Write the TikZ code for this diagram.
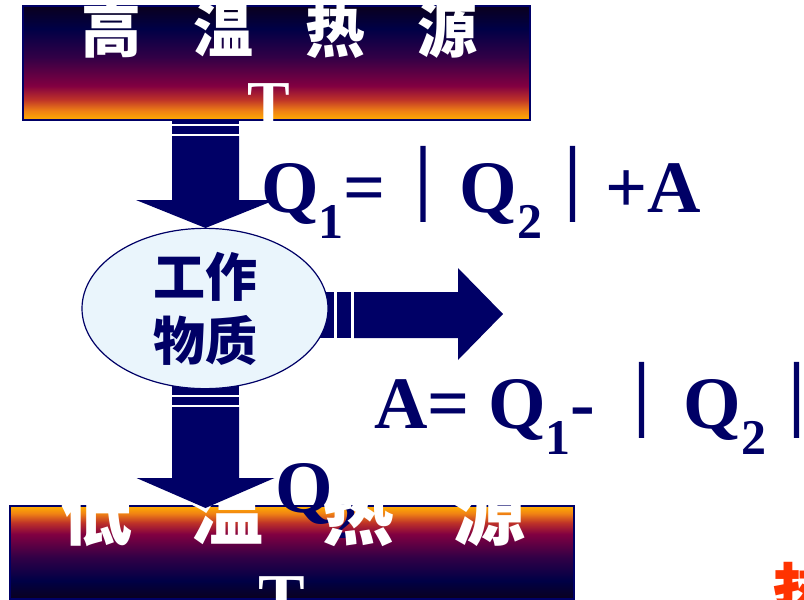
\documentclass[tikz,border=0pt]{standalone}
\usepackage{fontspec}
\usetikzlibrary{shapes.geometric}
\newfontfamily\cjk{Noto Sans CJK SC}
\newfontfamily\cjkbar{Noto Sans CJK SC}[FakeBold=3]
\newfontfamily\tms{Liberation Serif}
\definecolor{navy}{RGB}{0,0,102}
\definecolor{ellfill}{RGB}{234,245,252}
\definecolor{hotred}{RGB}{255,51,0}
\definecolor{gO}{RGB}{255,175,0}
\definecolor{gOr}{RGB}{240,130,20}
\definecolor{gR}{RGB}{190,50,40}
\definecolor{gM}{RGB}{130,0,65}
\definecolor{gP}{RGB}{50,0,70}
\definecolor{gN}{RGB}{0,0,70}
\definecolor{gK}{RGB}{10,0,30}
\pgfdeclareverticalshading{hotsrc}{100bp}{color(0bp)=(gO); color(25bp)=(gO); color(29bp)=(gOr); color(34bp)=(gR); color(40bp)=(gM); color(52.5bp)=(gP); color(65bp)=(gN); color(75bp)=(gK); color(100bp)=(gK)}
\pgfdeclareverticalshading{coldsrc}{100bp}{color(0bp)=(gK); color(25bp)=(gK); color(35bp)=(gN); color(47.5bp)=(gP); color(60bp)=(gM); color(66bp)=(gR); color(71bp)=(gOr); color(75bp)=(gO); color(100bp)=(gO)}
\newcommand\subidx[1]{\raisebox{-26pt}{\fontsize{50}{50}\selectfont #1}}
\newcommand\fwbar{{\cjkbar\mdseries ｜}}
\begin{document}
\begin{tikzpicture}[x=1pt,y=-1pt,
  arrowfill/.style={fill=navy},
  srcbox/.style={rectangle, draw=navy, line width=1.5pt, inner sep=0pt},
  srctext/.style={text=white, inner sep=0pt, anchor=base west},
  formula/.style={text=navy, inner sep=0pt, anchor=base west, font=\tms\bfseries\fontsize{74}{74}\selectfont}]
\useasboundingbox (0,0) rectangle (804,600);
\clip (0,0) rectangle (804,600);
% top arrow (behind the hot box)
\fill[arrowfill] (172,112) rectangle (239,124);
\fill[arrowfill] (172,126) rectangle (239,134);
\fill[arrowfill] (172,136) -- (239,136) -- (239,200) -- (275,200) -- (205.5,228) -- (136,200) -- (172,200) -- cycle;
% hot source
\node[srcbox, shading=hotsrc, minimum width=507pt, minimum height=114pt] (hot) at (276.5,63) {};
\begin{scope}
\clip (hot.north west) rectangle (hot.south east);
\node[srctext] (hottxt) at (81,52) {\cjk\bfseries\fontsize{60}{60}\selectfont 高\hspace{52pt}温\hspace{52pt}热\hspace{52pt}源};
\node[text=white, inner sep=0pt, anchor=base] (hotT) at (269,125) {\tms\bfseries\fontsize{64}{64}\selectfont T};
\end{scope}
% cold source
\node[srcbox, shading=coldsrc, minimum width=564pt, minimum height=93pt] (cold) at (292,552.5) {};
\node[formula] (q2) at (275,512) {Q\subidx{2}};
\begin{scope}
\clip (cold.north west) rectangle (cold.south east);
\node[srctext] (coldtxt) at (60,539) {\cjk\bfseries\fontsize{72}{72}\selectfont 低\hspace{59pt}温\hspace{59pt}热\hspace{59pt}源};
\node[text=white, inner sep=0pt, anchor=base] (coldT) at (281.5,622) {\tms\bfseries\fontsize{70}{70}\selectfont T};
\end{scope}
% bottom arrow
\fill[arrowfill] (172,380) rectangle (239,395);
\fill[arrowfill] (172,397) rectangle (239,405);
\fill[arrowfill] (172,407) -- (239,407) -- (239,478) -- (274.5,478) -- (205.5,508) -- (136.5,478) -- (172,478) -- cycle;
% right arrow
\fill[arrowfill] (318,292) rectangle (334,338);
\fill[arrowfill] (337,292) rectangle (351,338);
\fill[arrowfill] (354,292) -- (458,292) -- (458,268) -- (503,314) -- (458,360) -- (458,338) -- (354,338) -- cycle;
% working substance
\node[ellipse, draw=navy, line width=1.2pt, fill=ellfill, minimum width=246pt, minimum height=160pt, inner sep=0pt, align=center, text=navy, font=\cjk\bfseries\fontsize{52}{64}\selectfont] (wm) at (205,308.5) {工作\\物质};
% formulas
\node[formula] (f1) at (261,212) {Q\subidx{1}=\fwbar Q\subidx{2}\kern-7pt\fwbar\kern-4pt+A};
\node[formula] (f2) at (374,428) {A= Q\subidx{1}-\kern9pt\fwbar\kern5pt Q\subidx{2}\kern-6.5pt\fwbar};
% clipped red character
\node[text=hotred, inner sep=0pt, anchor=base west] (redch) at (772,618) {\cjk\bfseries\fontsize{66}{66}\selectfont 热};
\end{tikzpicture}
\end{document}
